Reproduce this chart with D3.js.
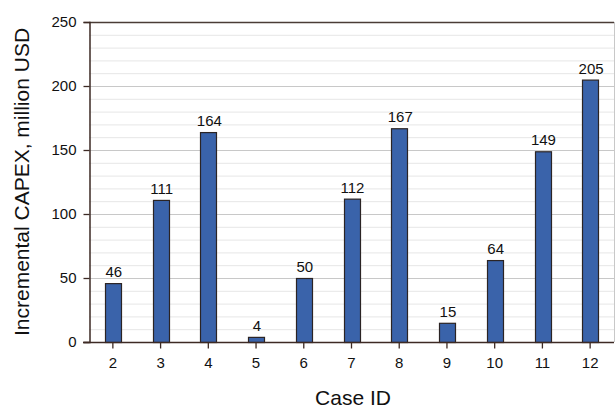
<!DOCTYPE html>
<html><head><meta charset="utf-8">
<script src="https://cdn.jsdelivr.net/npm/d3@7"></script>
<style>body{margin:0;background:#fff}svg{display:block;font-family:"Liberation Sans",Arial,sans-serif}</style>
</head><body>
<svg id="c" width="615" height="409"></svg>
<script>
const categories = ["2","3","4","5","6","7","8","9","10","11","12"];
const values = [46,111,164,4,50,112,167,15,64,149,205];
const yTicks = [0,50,100,150,200,250];
const minorTicks = d3.range(0,251,10);

const svg = d3.select("#c");
const m = {l:89, t:22, r:614, b:342};
const x = d3.scaleBand().domain(categories).range([m.l, m.r]).paddingInner(0.67).paddingOuter(0.335);
const y = d3.scaleLinear().domain([0,250]).range([m.b, m.t]);

// minor gridlines
svg.append("g").selectAll("line").data(minorTicks.filter(d=>d%50!==0)).join("line")
  .attr("x1", m.l).attr("x2", m.r).attr("y1", d=>y(d)+0.5).attr("y2", d=>y(d)+0.5)
  .attr("stroke", "#e6e6e6").attr("stroke-width", 1);
// major gridlines
svg.append("g").selectAll("line").data(yTicks.filter(d=>d>0 && d<250)).join("line")
  .attr("x1", m.l).attr("x2", m.r).attr("y1", d=>y(d)+0.5).attr("y2", d=>y(d)+0.5)
  .attr("stroke", "#c8c8c8").attr("stroke-width", 1);
// top border and right border
svg.append("line").attr("x1", m.l).attr("x2", m.r).attr("y1", m.t+0.5).attr("y2", m.t+0.5)
  .attr("stroke", "#4a3c36").attr("stroke-width", 1.3);
svg.append("line").attr("x1", m.r+0.5).attr("x2", m.r+0.5).attr("y1", m.t).attr("y2", m.b)
  .attr("stroke", "#c8c8c8").attr("stroke-width", 1);

// bars
svg.append("g").selectAll("rect").data(values).join("rect")
  .attr("x", (d,i)=>Math.round(x(categories[i]))+0.5)
  .attr("width", Math.round(x.bandwidth()))
  .attr("y", d=>y(d)+0.5)
  .attr("height", d=>y(0)-y(d))
  .attr("fill", "#3a63aa").attr("stroke", "#2b2424").attr("stroke-width", 1.2);

// value labels
svg.append("g").selectAll("text").data(values).join("text")
  .attr("x", (d,i)=>x(categories[i])+x.bandwidth()/2+1)
  .attr("y", d=>y(d)-6)
  .attr("text-anchor","middle").attr("font-size", 15).attr("fill","#111")
  .text(d=>d);

// axes
const yAxis = d3.axisLeft(y).tickValues(yTicks).tickSize(6).tickPadding(7);
const gy = svg.append("g").attr("transform", `translate(${m.l+0.5},0)`).call(yAxis);
gy.select(".domain").attr("stroke","#3d2a24").attr("stroke-width",1.5);
gy.selectAll(".tick line").attr("stroke","#3d2a24").attr("stroke-width",1.3);
gy.selectAll("text").attr("font-size",15).attr("fill","#111").attr("font-family","Liberation Sans, Arial, sans-serif");

const xAxis = d3.axisBottom(x).tickSize(6).tickPadding(9).tickSizeOuter(0);
const gx = svg.append("g").attr("transform", `translate(0,${m.b+0.5})`).call(xAxis);
gx.select(".domain").attr("stroke","#3d2a24").attr("stroke-width",1.5).attr("d", `M${m.l-6},0H${m.r}`);
gx.selectAll(".tick line").attr("stroke","#3d2a24").attr("stroke-width",1.3);
gx.selectAll("text").attr("font-size",15).attr("fill","#111").attr("font-family","Liberation Sans, Arial, sans-serif");

// titles
svg.append("text").attr("x", 353).attr("y", 405).attr("text-anchor","middle")
  .attr("font-size",21).attr("fill","#111").text("Case ID");
svg.append("text").attr("transform", `translate(29,${(m.t+m.b)/2}) rotate(-90)`).attr("text-anchor","middle")
  .attr("font-size",21).attr("fill","#111").text("Incremental CAPEX, million USD");
</script>
</body></html>
